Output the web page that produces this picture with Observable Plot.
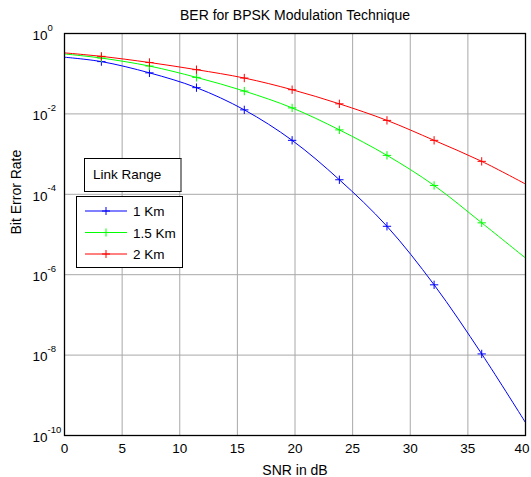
<!DOCTYPE html>
<html><head><meta charset="utf-8">
<script src="https://cdn.jsdelivr.net/npm/d3@7"></script>
<script src="https://cdn.jsdelivr.net/npm/@observablehq/plot@0.6"></script>
<style>
body{margin:0;background:#fff;font-family:"Liberation Sans",Arial,sans-serif;}
#wrap{position:relative;width:531px;height:477px;}
.box{position:absolute;background:#fff;border:1px solid #000;box-sizing:border-box;font-size:13.5px;color:#000;}
</style></head><body>
<div id="wrap"></div>
<script>
const title = "BER for BPSK Modulation Technique";
const xLabel = "SNR in dB";
const yLabel = "Bit Error Rate";
const legendTitle = "Link Range";
const seriesNames = ["1 Km", "1.5 Km", "2 Km"];
const seriesColors = ["#0000ff", "#00ff00", "#ff0000"];
const snr = [0, 3.2, 7.37, 11.45, 15.6, 19.75, 23.85, 27.98, 32.07, 36.2, 40];
const markerSnr = [3.2, 7.37, 11.45, 15.6, 19.75, 23.85, 27.98, 32.07, 36.2];
const ber1 = [0.257, 0.2, 0.105, 0.045, 0.0126, 0.0022, 2.3e-4, 1.6e-5, 5.6e-7, 1.07e-8, 2.1e-10];
const ber15 = [0.31, 0.245, 0.155, 0.081, 0.037, 0.0141, 0.004, 9.3e-4, 1.66e-4, 1.95e-5, 2.6e-6];
const ber2 = [0.33, 0.27, 0.19, 0.126, 0.078, 0.04, 0.0178, 0.0069, 0.0022, 6.6e-4, 1.8e-4];
const xTicks = [0, 5, 10, 15, 20, 25, 30, 35, 40];
const yTicks = [1e-10, 1e-8, 1e-6, 1e-4, 1e-2, 1];
const yExponents = ["-10", "-8", "-6", "-4", "-2", "0"];

const seriesValues = [ber1, ber15, ber2];
const rows = [];
seriesValues.forEach((vals, s) => snr.forEach((x, i) => rows.push({series: seriesNames[s], snr: x, ber: vals[i]})));
const markers = rows.filter(d => markerSnr.includes(d.snr));
const yTickRows = yTicks.map((v, i) => ({v, e: yExponents[i]}));
const lastX = xTicks[xTicks.length - 1];
const color = {domain: seriesNames, range: seriesColors};

const chart = Plot.plot({
  width: 531, height: 477,
  marginLeft: 64, marginRight: 6, marginTop: 33, marginBottom: 42,
  style: {fontFamily: '"Liberation Sans", Arial, sans-serif', fontSize: "13.5px", background: "#fff", color: "#000"},
  x: {domain: [0, 40], axis: null},
  y: {type: "log", domain: [1e-10, 1], axis: null},
  color,
  marks: [
    Plot.gridX(xTicks, {stroke: "#a8a8a8", strokeOpacity: 1, strokeWidth: 1}),
    Plot.gridY(yTicks, {stroke: "#a8a8a8", strokeOpacity: 1, strokeWidth: 1}),
    Plot.text(xTicks.filter(d => d !== lastX), {x: d => d, frameAnchor: "bottom", lineAnchor: "top", dy: 8, fontSize: 13.5}),
    Plot.text([lastX], {x: d => d, frameAnchor: "bottom", lineAnchor: "top", textAnchor: "end", dx: 4, dy: 8, fontSize: 13.5}),
    Plot.text(yTickRows, {y: "v", text: () => "10", frameAnchor: "left", dx: -17, dy: 2, textAnchor: "end", fontSize: 13.5}),
    Plot.text(yTickRows, {y: "v", text: "e", frameAnchor: "left", dx: -17, dy: -6, textAnchor: "start", fontSize: 9.5}),
    Plot.line(rows, {x: "snr", y: "ber", z: "series", stroke: "series", strokeWidth: 1, curve: "catmull-rom"}),
    Plot.dot(markers, {x: "snr", y: "ber", stroke: "series", symbol: "plus", r: 2.8, strokeWidth: 1}),
    Plot.frame({stroke: "#000", strokeWidth: 1.3}),
    Plot.text([title], {frameAnchor: "top", dy: -23, fontSize: 14}),
    Plot.text([xLabel], {frameAnchor: "bottom", dy: 39, fontSize: 14}),
    Plot.text([yLabel], {frameAnchor: "left", dx: -48, rotate: -90, fontSize: 14})
  ]
});
const wrap = document.getElementById("wrap");
wrap.appendChild(chart);

// Legend (drawn over the axes like MATLAB)
const lt = document.createElement("div");
lt.className = "box";
Object.assign(lt.style, {left: "84px", top: "158px", width: "98px", height: "34px", lineHeight: "32px", paddingLeft: "8px", borderRight: "2px solid #888"});
lt.textContent = legendTitle;
wrap.appendChild(lt);

const lg = document.createElement("div");
lg.className = "box";
Object.assign(lg.style, {left: "76px", top: "196px", width: "107px", height: "72px"});
const ns = "http://www.w3.org/2000/svg";
const svg = document.createElementNS(ns, "svg");
svg.setAttribute("width", 105); svg.setAttribute("height", 70);
seriesNames.forEach((name, i) => {
  const y = 14 + i * 21.5;
  const l = document.createElementNS(ns, "line");
  l.setAttribute("x1", 8); l.setAttribute("x2", 50); l.setAttribute("y1", y); l.setAttribute("y2", y);
  l.setAttribute("stroke", seriesColors[i]); svg.appendChild(l);
  const p = document.createElementNS(ns, "path");
  p.setAttribute("d", `M${29-4},${y}h8M29,${y-4}v8`);
  p.setAttribute("stroke", seriesColors[i]); svg.appendChild(p);
  const t = document.createElementNS(ns, "text");
  t.setAttribute("x", 56); t.setAttribute("y", y + 5);
  t.setAttribute("font-size", "13.5px");
  t.setAttribute("font-family", '"Liberation Sans", Arial, sans-serif');
  t.textContent = name; svg.appendChild(t);
});
lg.appendChild(svg);
wrap.appendChild(lg);
</script>
</body></html>
